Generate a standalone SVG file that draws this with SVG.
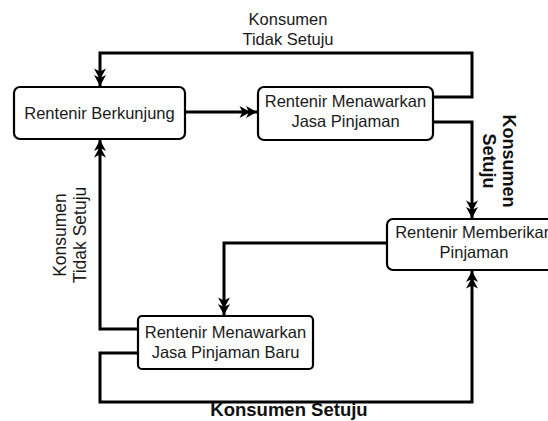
<svg xmlns="http://www.w3.org/2000/svg" width="548" height="421" viewBox="0 0 548 421">
<style>
.node rect{fill:#fff;stroke:#000;stroke-width:2.2}
.node text{font-family:"Liberation Sans",Arial,sans-serif;font-size:16.5px;fill:#1a1a1a;text-anchor:middle}
.conn path{fill:none;stroke:#000;stroke-width:3;stroke-linejoin:miter}
.lbl{font-family:"Liberation Sans",Arial,sans-serif;font-size:16.5px;fill:#1a1a1a;text-anchor:middle}
.vlbl{font-size:17.5px}
.blbl{font-family:"Liberation Sans",Arial,sans-serif;font-size:18px;font-weight:bold;fill:#111;text-anchor:middle}
.bottom{font-size:18.5px}
</style>
<defs>
<marker id="dbl" markerUnits="userSpaceOnUse" viewBox="-18 -7 19 14" refX="0" refY="0" markerWidth="19" markerHeight="14" orient="auto">
<path d="M0,0 L-11,-6 L-8,0 L-11,6Z M-6.5,0 L-17.5,-6 L-14.5,0 L-17.5,6Z" fill="#000"/>
</marker>
</defs>
<rect width="548" height="421" fill="#fff"/>
<g class="conn">
<path d="M185,112 H257" marker-end="url(#dbl)"/>
<path d="M433,97 H472 V53 H100 V86" marker-end="url(#dbl)"/>
<path d="M433,122 H472 V218" marker-end="url(#dbl)"/>
<path d="M387,243 H224 V315" marker-end="url(#dbl)"/>
<path d="M138,329 H100 V140" marker-end="url(#dbl)"/>
<path d="M138,353 H100 V402 H472 V271" marker-end="url(#dbl)"/>
</g>
<g id="n1" class="node">
<rect x="14" y="87" width="171" height="52" rx="6"/>
<text x="99.5" y="119">Rentenir Berkunjung</text>
</g>
<g id="n2" class="node">
<rect x="258" y="87" width="175" height="53" rx="6"/>
<text x="345.5" y="107">Rentenir Menawarkan</text>
<text x="345.5" y="127">Jasa Pinjaman</text>
</g>
<g id="n3" class="node">
<rect x="387" y="219" width="180" height="51" rx="6"/>
<text x="474" y="238">Rentenir Memberikan</text>
<text x="474" y="258">Pinjaman</text>
</g>
<g id="n4" class="node">
<rect x="138" y="316" width="175" height="53" rx="4"/>
<text x="225.5" y="337.5">Rentenir Menawarkan</text>
<text x="225.5" y="358">Jasa Pinjaman Baru</text>
</g>
<g id="labels">
<text class="lbl" x="288" y="25">Konsumen</text>
<text class="lbl" x="288" y="45">Tidak Setuju</text>
<g transform="translate(66,235) rotate(-90)">
<text class="lbl vlbl" x="0" y="0">Konsumen</text>
<text class="lbl vlbl" x="0" y="20">Tidak Setuju</text>
</g>
<g transform="translate(503,161) rotate(90)">
<text class="blbl" x="0" y="0">Konsumen</text>
<text class="blbl" x="0" y="20">Setuju</text>
</g>
<text class="blbl bottom" x="289" y="416">Konsumen Setuju</text>
</g>
</svg>
